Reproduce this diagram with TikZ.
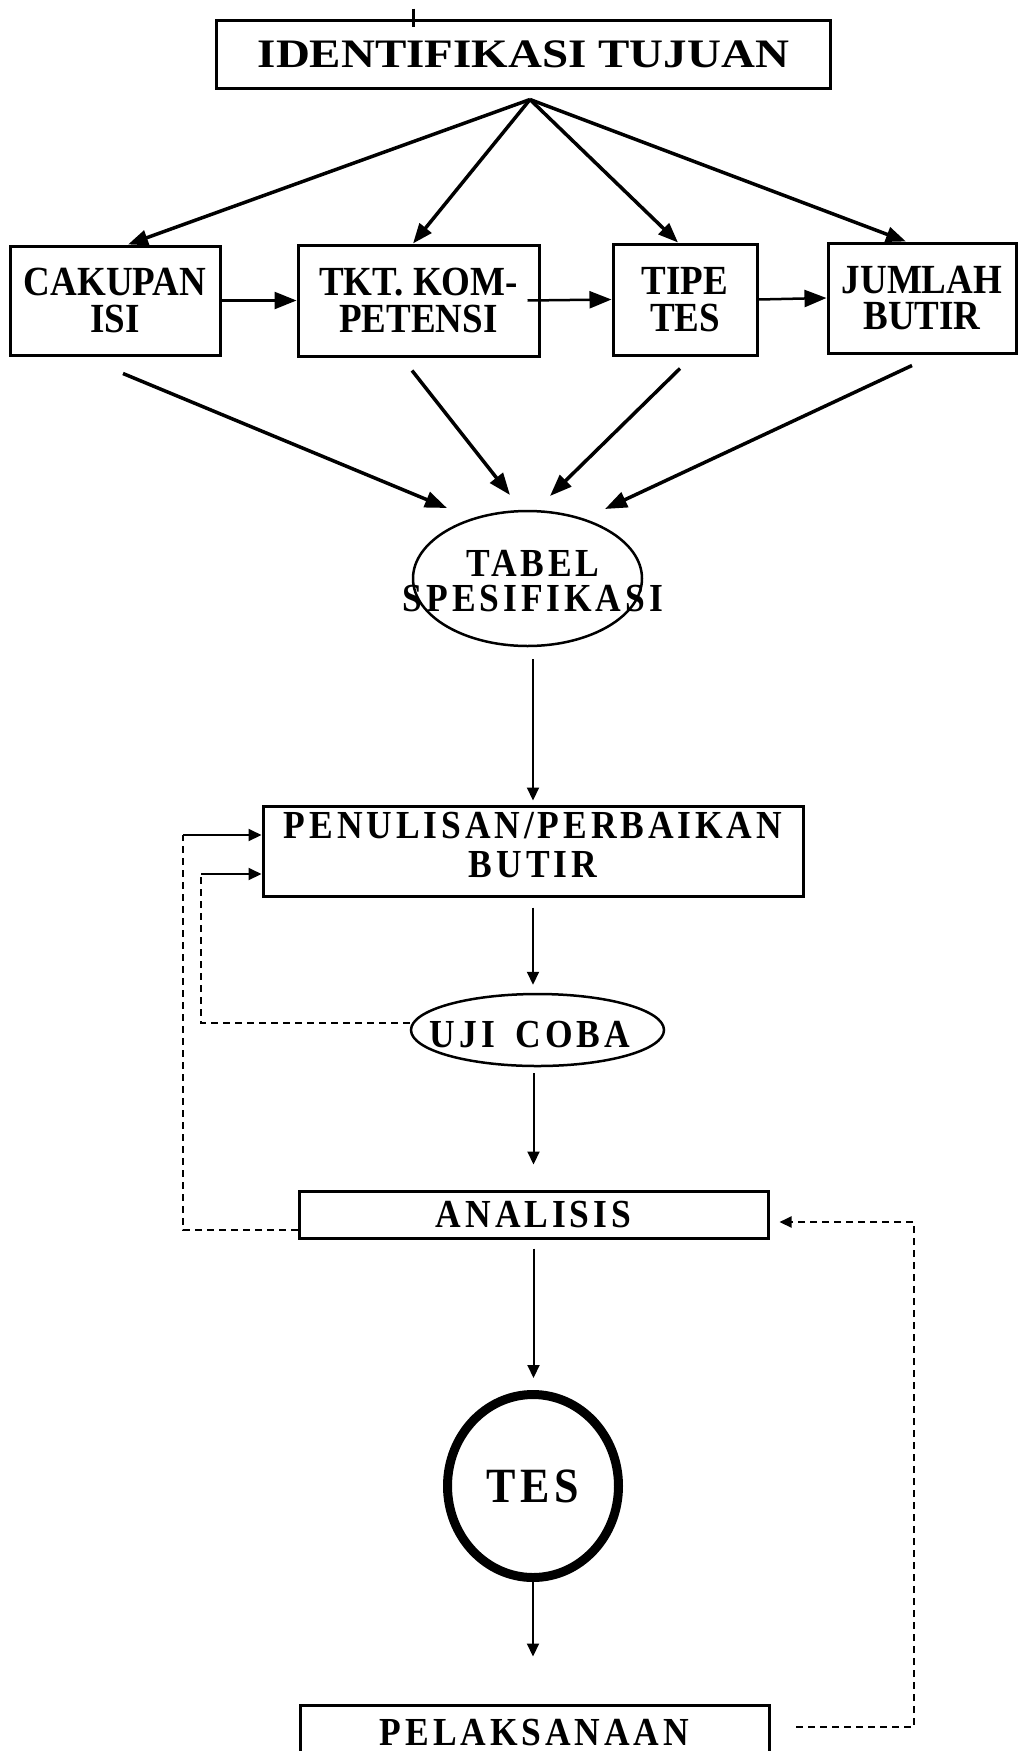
\documentclass[tikz,border=0pt]{standalone}
\usepackage{fontspec}
\setmainfont{Liberation Serif}
\newfontfamily\spfont[LetterSpace=11]{Liberation Serif}
\usetikzlibrary{arrows.meta,shapes.geometric,calc}
\newcommand\mlines[2]{\scalebox{1}[1.12]{\vbox{\baselineskip=#1\lineskiplimit=-100pt\halign{\hfil##\hfil\cr#2\crcr}}}}
\begin{document}
\begin{tikzpicture}[x=1pt,y=-1pt,
  box/.style={draw, rectangle, line width=3pt, inner sep=0pt},
  oval/.style={draw, ellipse, line width=2.5pt, inner sep=0pt},
  lbl/.style={inner sep=0pt},
  rowfont/.style={font=\fontsize{37pt}{32pt}\selectfont\bfseries},
  spacedfont/.style={font=\spfont\fontsize{35.5pt}{32pt}\selectfont\bfseries},
  fan/.style={line width=3.5pt, -{Triangle[length=20pt,width=15pt]}},
  conv/.style={line width=3.5pt, -{Triangle[length=22pt,width=16pt]}},
  harr/.style={line width=2.5pt, -{Triangle[length=22pt,width=17pt]}},
  varr/.style={line width=2pt, -{Triangle[length=13pt,width=12pt]}},
  dl/.style={line width=2pt, dash pattern=on 7pt off 5pt},
]
\useasboundingbox (0,0) rectangle (1018,1751);
\fill[white] (0,0) rectangle (1018,1751);
\clip (0,0) rectangle (1018,1751);

% top box
\node[box, minimum width=614pt, minimum height=68pt,
      font=\fontsize{47pt}{47pt}\selectfont\bfseries] (ident) at (523.5,54)
      {\scalebox{1}[0.86]{IDENTIFIKASI TUJUAN}};
\draw[line width=3pt] ([xshift=-110.5pt,yshift=10pt]ident.north) -- ([xshift=-110.5pt,yshift=-8pt]ident.north);
\coordinate (hub) at ([shift={(6.5,10)}]ident.south);

% row of boxes
\node[box, rowfont, minimum width=210pt, minimum height=109pt] (cak) at (115,300.5) {\mlines{33pt}{CAKUPAN\cr ISI}};
\node[box, rowfont, minimum width=241pt, minimum height=111pt] (tkt) at (418.5,300.5) {\mlines{33pt}{TKT. KOM-\cr PETENSI}};
\node[box, rowfont, minimum width=144pt, minimum height=111pt] (tipe) at (685,299.5) {\mlines{33pt}{TIPE\cr TES}};
\node[box, rowfont, minimum width=188pt, minimum height=110pt] (jum) at (922,298) {\mlines{33pt}{JUMLAH\cr BUTIR}};

\draw[fan] (hub) -- ([xshift=13pt]cak.north);
\draw[fan] (hub) -- ([xshift=-5.5pt]tkt.north);
\draw[fan] (hub) -- ([xshift=-7pt]tipe.north);
\draw[fan] (hub) -- ([xshift=-16pt]jum.north);

\draw[harr] (cak.east) -- (tkt.west);
\draw[harr] ([xshift=-13pt]tkt.east) -- (tipe.west);
\draw[harr] (tipe.east) -- (jum.west);

% tabel spesifikasi
\node[oval, minimum width=229pt, minimum height=135pt] (tab) at (527.5,578.5) {};
\node[lbl, spacedfont] (tabt) at (533,581) {\mlines{30.5pt}{TABEL\cr SPESIFIKASI}};

\draw[conv] ([shift={(8,17)}]cak.south) -- ([shift={(-80.5,-70.5)}]tab.center);
\draw[conv] ([shift={(-6.5,13)}]tkt.south) -- ([shift={(-17.5,-83.5)}]tab.center);
\draw[conv] ([shift={(-5,12)}]tipe.south) -- ([shift={(22.5,-82.5)}]tab.center);
\draw[conv] ([shift={(-10,11)}]jum.south) -- ([shift={(77.5,-69.5)}]tab.center);

% penulisan
\node[box, minimum width=540pt, minimum height=90pt] (pen) at (533,851) {};
\node[lbl, spacedfont] (pent) at (533,845) {\mlines{34pt}{PENULISAN/PERBAIKAN\cr BUTIR}};

% uji coba
\node[oval, minimum width=253pt, minimum height=72pt] (uji) at (537.5,1030) {};
\node[lbl, spacedfont] (ujit) at (530,1035) {\scalebox{1}[1.12]{UJI\hspace{8pt} COBA}};

% analisis
\node[box, spacedfont, minimum width=469pt, minimum height=47pt] (ana) at (533.5,1214.5) {\scalebox{1}[1.12]{ANALISIS}};

% tes
\node[draw, ellipse, line width=9pt, inner sep=0pt, minimum width=171pt, minimum height=183pt,
      font=\spfont\fontsize{44pt}{44pt}\selectfont\bfseries] (tes) at (533,1486) {\scalebox{1}[1.12]{TES}};

% pelaksanaan
\node[box, spacedfont, minimum width=469pt, minimum height=56pt] (pel) at (534.5,1733) {\scalebox{1}[1.12]{PELAKSANAAN}};

% vertical arrows
\draw[varr, shorten >=4pt] (pen.north |- tab.south) ++(0,12) -- (pen.north);
\draw[varr, shorten >=8pt] (pen.south) ++(0,10) -- (pen.south |- uji.north);
\draw[varr, shorten >=25pt] (ana.north |- uji.south) ++(0,6) -- (ana.north);
\draw[varr, shorten >=12pt] (ana.south) ++(0,9) -- (ana.south |- tes.north);
\draw[varr, shorten >=47pt] (tes.south) -- (tes.south |- pel.north);

% left feedback loops
\coordinate (lo) at (183,835);
\draw[dl] ([yshift=-15.5pt]ana.west) -| (lo);
\draw[varr] (lo) -- (lo -| pen.west);
\coordinate (li) at (201,874);
\draw[dl] (uji.west) ++(0,-7) -| (li);
\draw[varr] (li) -- (li -| pen.west);

% right feedback loop
\coordinate (rb) at (796,1727);
\coordinate (rc) at (914,1222);
\coordinate (ra) at ([xshift=10pt]ana.east);
\draw[dl, -{Triangle[length=12pt,width=11pt]}] (rb) -| (rc) -- (ra |- rc);
\end{tikzpicture}
\end{document}
